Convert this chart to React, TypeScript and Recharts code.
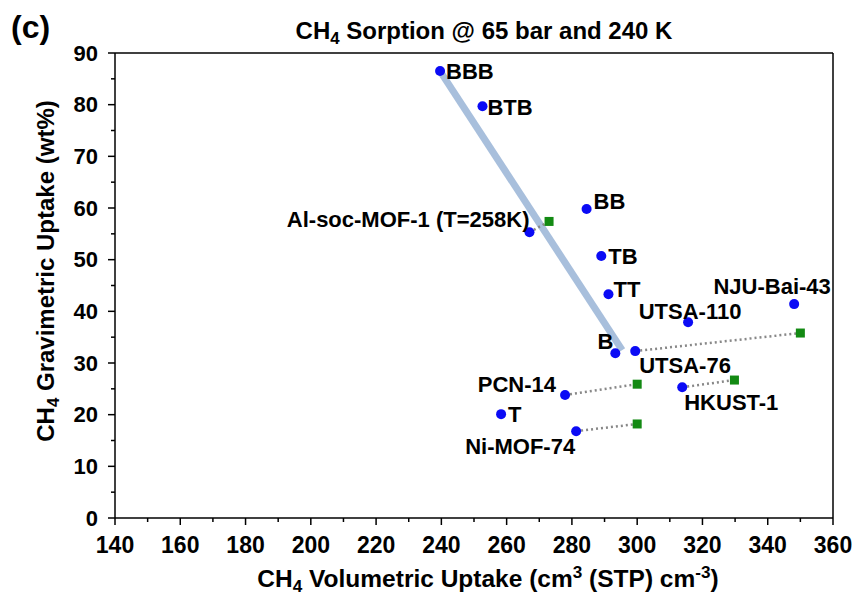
import React from 'react';
import { ScatterChart, Scatter, XAxis, YAxis, ReferenceLine } from 'recharts';

// MOF materials, CH4 uptake at 65 bar / 240 K
const materials = [
  'BBB', 'BTB', 'BB', 'Al-soc-MOF-1 (T=258K)', 'TB', 'TT', 'UTSA-110',
  'NJU-Bai-43', 'B', 'UTSA-76', 'PCN-14', 'HKUST-1', 'T', 'Ni-MOF-74',
];
const volumetric = [239.6, 252.6, 284.5, 267.0, 289.0, 291.2, 315.6, 348.1, 293.3, 299.4, 277.9, 313.8, 258.3, 281.3];
const gravimetric = [86.5, 79.7, 59.8, 55.3, 50.7, 43.3, 37.9, 41.4, 31.9, 32.3, 23.8, 25.3, 20.1, 16.8];

// comparison values (green squares), joined to the blue point of the same material
const pairedMaterials = ['Al-soc-MOF-1 (T=258K)', 'UTSA-76', 'PCN-14', 'HKUST-1', 'Ni-MOF-74'];
const pairedVolumetric = [273.0, 350.0, 300.0, 329.8, 300.0];
const pairedGravimetric = [57.4, 35.8, 25.9, 26.7, 18.2];

// thick trend line
const trendVolumetric = [239.6, 295.4];
const trendGravimetric = [86.5, 32.5];

const xTicks = [140, 150, 160, 170, 180, 190, 200, 210, 220, 230, 240, 250, 260, 270, 280, 290, 300, 310, 320, 330, 340, 350, 360];
const yTicks = [0, 5, 10, 15, 20, 25, 30, 35, 40, 45, 50, 55, 60, 65, 70, 75, 80, 85, 90];

// label placement relative to the point
const labelPlacement: Record<string, { dx: number; dy: number; anchor: string }> = {
  'BBB': { dx: 6, dy: 0, anchor: 'start' },
  'BTB': { dx: 5, dy: 1, anchor: 'start' },
  'BB': { dx: 7, dy: -8, anchor: 'start' },
  'Al-soc-MOF-1 (T=258K)': { dx: 0, dy: -13, anchor: 'end' },
  'TB': { dx: 7, dy: 0, anchor: 'start' },
  'TT': { dx: 5, dy: -5, anchor: 'start' },
  'UTSA-110': { dx: 2, dy: -11, anchor: 'middle' },
  'NJU-Bai-43': { dx: -22, dy: -18, anchor: 'middle' },
  'B': { dx: -2, dy: -12, anchor: 'end' },
  'UTSA-76': { dx: 4, dy: 14, anchor: 'start' },
  'PCN-14': { dx: -9, dy: -11, anchor: 'end' },
  'HKUST-1': { dx: 2, dy: 15, anchor: 'start' },
  'T': { dx: 7, dy: 0, anchor: 'start' },
  'Ni-MOF-74': { dx: -1, dy: 15, anchor: 'end' },
};

const FONT = '"Liberation Sans", Arial, sans-serif';

const mainData = materials.map((name, i) => ({ name, x: volumetric[i], y: gravimetric[i] }));
const pairedData = pairedMaterials.map((name, i) => ({ name, x: pairedVolumetric[i], y: pairedGravimetric[i] }));
const trendData = trendVolumetric.map((x, i) => ({ x, y: trendGravimetric[i] }));
const pairLines = pairedMaterials.map((name, i) => {
  const j = materials.indexOf(name);
  return [
    { x: volumetric[j], y: gravimetric[j] },
    { x: pairedVolumetric[i], y: pairedGravimetric[i] },
  ];
});

const XTick = (props: any) => {
  const { x, y, payload } = props;
  const major = payload.value % 20 === 0;
  return (
    <g>
      <line x1={x} x2={x} y1={y} y2={y + (major ? 7 : 4)} stroke="#000" strokeWidth={1.5} />
      {major && (
        <text x={x} y={y + 27} textAnchor="middle" dominantBaseline="central"
          fontFamily={FONT} fontWeight="bold" fontSize={23} fill="#000">
          {payload.value}
        </text>
      )}
    </g>
  );
};

const YTick = (props: any) => {
  const { x, y, payload } = props;
  const major = payload.value % 10 === 0;
  return (
    <g>
      <line x1={x - (major ? 7 : 4)} x2={x} y1={y} y2={y} stroke="#000" strokeWidth={1.5} />
      {major && (
        <text x={x - 17} y={y} textAnchor="end" dominantBaseline="central"
          fontFamily={FONT} fontWeight="bold" fontSize={22} fill="#000">
          {payload.value}
        </text>
      )}
    </g>
  );
};

const BlueDot = (props: any) => {
  const { cx, cy, payload } = props;
  const p = labelPlacement[payload.name];
  return (
    <g>
      <circle cx={cx} cy={cy} r={5} fill="#0b0bf5" />
      <text x={cx + p.dx} y={cy + p.dy} textAnchor={p.anchor} dominantBaseline="central"
        fontFamily={FONT} fontWeight="bold" fontSize={22} fill="#000">
        {payload.name}
      </text>
    </g>
  );
};

const GreenSquare = (props: any) => {
  const { cx, cy } = props;
  return <rect x={cx - 4.5} y={cy - 4.5} width={9} height={9} fill="#138a13" />;
};

const NoMark = () => <g />;

const sub = { fontSize: '0.7em', position: 'relative' as const, top: '0.3em' };
const sup = { fontSize: '0.7em', position: 'relative' as const, top: '-0.5em' };

export default function App() {
  return (
    <div style={{ position: 'absolute', left: 0, top: 0, width: 853, height: 595, background: '#fff', fontFamily: FONT }}>
      <ScatterChart width={853} height={595} margin={{ top: 53, right: 20, bottom: 0, left: 0 }}>
        <XAxis type="number" dataKey="x" domain={[140, 360]} ticks={xTicks} interval={0}
          height={77} tickSize={0} tickMargin={0} tickLine={false} tick={<XTick />}
          axisLine={{ stroke: '#000', strokeWidth: 1.5 }} allowDataOverflow />
        <YAxis type="number" dataKey="y" domain={[0, 90]} ticks={yTicks} interval={0}
          width={115} tickSize={0} tickMargin={0} tickLine={false} tick={<YTick />}
          axisLine={{ stroke: '#000', strokeWidth: 1.5 }} allowDataOverflow />
        <ReferenceLine y={90} stroke="#000" strokeWidth={1.5} />
        <ReferenceLine x={360} stroke="#000" strokeWidth={1.5} />
        <Scatter data={trendData} line={{ stroke: '#a8bfdc', strokeWidth: 7 }} lineType="joint"
          shape={<NoMark />} isAnimationActive={false} />
        {pairLines.map((pts, i) => (
          <Scatter key={i} data={pts} line={{ stroke: '#888', strokeWidth: 2.5, strokeDasharray: '2 3' }}
            lineType="joint" shape={<NoMark />} isAnimationActive={false} />
        ))}
        <Scatter data={pairedData} shape={<GreenSquare />} isAnimationActive={false} />
        <Scatter data={mainData} shape={<BlueDot />} isAnimationActive={false} />
      </ScatterChart>

      <div style={{ position: 'absolute', left: 11, top: 11, fontSize: 32, fontWeight: 'bold', lineHeight: 1 }}>(c)</div>
      <div style={{ position: 'absolute', left: 484, top: 31, transform: 'translate(-50%, -50%)', fontSize: 24, fontWeight: 'bold', whiteSpace: 'nowrap', lineHeight: 1 }}>
        CH<span style={sub}>4</span> Sorption @ 65 bar and 240 K
      </div>
      <div style={{ position: 'absolute', left: 488, top: 579, transform: 'translate(-50%, -50%)', fontSize: 24.5, fontWeight: 'bold', whiteSpace: 'nowrap', lineHeight: 1 }}>
        CH<span style={sub}>4</span> Volumetric Uptake (cm<span style={sup}>3</span> (STP) cm<span style={sup}>-3</span>)
      </div>
      <div style={{ position: 'absolute', left: 46, top: 271, transform: 'translate(-50%, -50%) rotate(-90deg)', fontSize: 24, fontWeight: 'bold', whiteSpace: 'nowrap', lineHeight: 1 }}>
        CH<span style={sub}>4</span> Gravimetric Uptake (wt%)
      </div>
    </div>
  );
}
